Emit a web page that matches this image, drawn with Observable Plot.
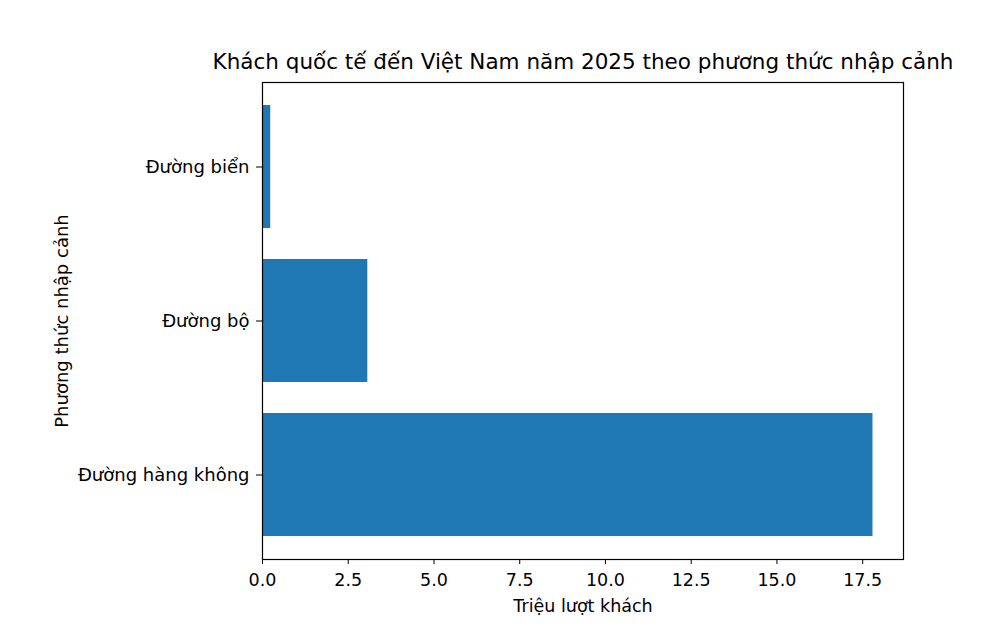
<!DOCTYPE html>
<html>
<head>
<meta charset="utf-8">
<script src="https://cdn.jsdelivr.net/npm/d3@7"></script>
<script src="https://cdn.jsdelivr.net/npm/@observablehq/plot@0.6"></script>
<style>
  html, body { margin: 0; padding: 0; background: #fff; }
  svg { display: block; }
</style>
</head>
<body>
<div id="chart"></div>
<script>
const categories = ["Đường biển", "Đường bộ", "Đường hàng không"];
const values = [0.24, 3.07, 17.8];
const xTicks = [0, 2.5, 5, 7.5, 10, 12.5, 15, 17.5];
const title = "Khách quốc tế đến Việt Nam năm 2025 theo phương thức nhập cảnh";
const xLabel = "Triệu lượt khách";
const yLabel = "Phương thức nhập cảnh";

const data = categories.map((c, i) => ({category: c, value: values[i]}));
const xMax = d3.max(values) * 1.05;

const chart = Plot.plot({
  width: 1000,
  height: 636,
  marginLeft: 262,
  marginRight: 97,
  marginTop: 82,
  marginBottom: 77,
  style: {fontFamily: "DejaVu Sans", fontSize: "18px", color: "#000", background: "#fff"},
  x: {domain: [0, xMax]},
  y: {domain: categories, paddingInner: 0.2, paddingOuter: 0.14, align: 0.5},
  marks: [
    Plot.barX(data, {x: "value", y: "category", fill: "#1f77b4"}),
    Plot.frame({stroke: "#000", strokeWidth: 1.2}),
    Plot.axisX({ticks: xTicks, tickFormat: d3.format(".1f"), tickSize: 5, tickPadding: 9,
      fontSize: 17.5, label: xLabel, labelAnchor: "center", labelOffset: 52, labelArrow: "none"}),
    Plot.axisY({tickSize: 6, tickPadding: 7, fontSize: 18,
      label: yLabel, labelAnchor: "center", labelOffset: 207, labelArrow: "none"}),
    Plot.text([title], {frameAnchor: "top", dy: -20, lineAnchor: "middle", fontSize: 21.5, fill: "#000"})
  ]
});
document.getElementById("chart").appendChild(chart);
</script>
</body>
</html>
